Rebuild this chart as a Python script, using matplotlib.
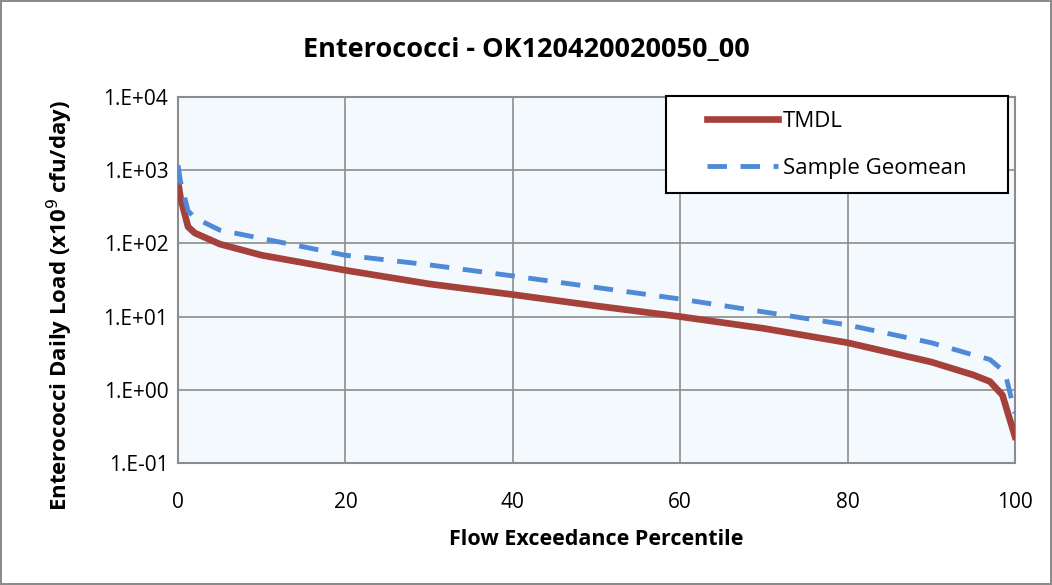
import matplotlib.pyplot as plt
from matplotlib.patches import Rectangle
from matplotlib.ticker import FixedLocator, FuncFormatter

plt.rcParams['font.family'] = ['Open Sans', 'DejaVu Sans']

# values
tmdl_x = [0, 0.3, 1.2, 2, 5, 10, 20, 30, 40, 50, 60, 70, 80, 90, 95, 97, 98.5, 100]
tmdl_y = [700, 420, 169, 139, 98, 69, 43, 28, 20, 14, 10, 6.9, 4.4, 2.4, 1.6, 1.3, 0.85, 0.23]

geo_x = [0, 0.3, 1.2, 2, 5, 10, 20, 30, 40, 50, 60, 70, 80, 90, 95, 97, 98.5, 99, 100]
geo_y = [1170, 700, 280, 224, 152, 117, 69, 51, 36, 25, 17.4, 11.6, 7.7, 4.4, 3.0, 2.6, 1.86, 1.4, 0.48]

yticks = [0.1, 1, 10, 100, 1000, 10000]
ytick_labels = ['1.E-01', '1.E+00', '1.E+01', '1.E+02', '1.E+03', '1.E+04']
xticks = [0, 20, 40, 60, 80, 100]

fig = plt.figure(figsize=(10.52, 5.85), dpi=100)
fig.patch.set_edgecolor('#8c8c8c')
fig.patch.set_linewidth(1.5)

ax = fig.add_axes([0.1692, 0.2085, 0.7956, 0.6256])
ax.set_facecolor('#f4f9fd')

ax.plot(tmdl_x, tmdl_y, color='#a5403a', lw=4.8, label='TMDL', zorder=3)
ax.plot(geo_x, geo_y, color='#4f8ad6', lw=3.5, ls=(0, (4, 2.8)), label='Sample Geomean', zorder=3)

ax.set_yscale('log')
ax.set_ylim(0.1, 10000)
ax.set_xlim(0, 100)
ax.yaxis.set_major_locator(FixedLocator(yticks))
ax.yaxis.set_major_formatter(FuncFormatter(lambda v, p: ytick_labels[yticks.index(min(yticks, key=lambda t: abs(t - v)))]))
ax.yaxis.set_minor_locator(FixedLocator([]))
ax.set_xticks(xticks)

ax.grid(True, color='#8c8c8c', lw=1.2)
ax.set_axisbelow(True)
for s in ax.spines.values():
    s.set_color('#8c8c8c')
    s.set_linewidth(1.5)
ax.tick_params(axis='both', labelsize=15, length=0)
ax.tick_params(axis='x', pad=21)
ax.tick_params(axis='y', pad=7)

# title is centred on the whole figure, not the axes
fig.text(0.5, 0.902, 'Enterococci - OK120420020050_00', fontsize=19.5, fontweight='bold',
         ha='center', va='baseline')
ax.set_xlabel('Flow Exceedance Percentile', fontsize=15.5, fontweight='bold')
ax.xaxis.set_label_coords(0.5, -0.18)
ax.set_ylabel('Enterococci Daily Load (x10$^9$ cfu/day)', fontsize=16, fontweight='bold')
ax.yaxis.set_label_coords(-0.123, 0.43)

# legend box drawn separately so the padding can be wider than tall
ax.add_patch(Rectangle((0.583, 0.738), 0.4086, 0.265, transform=ax.transAxes,
                       facecolor='white', edgecolor='black', lw=1.5, zorder=4, clip_on=False))
leg = ax.legend(loc='center', fontsize=16, frameon=False, labelspacing=1.17,
                handlelength=3.2, handletextpad=0.25, bbox_to_anchor=(0.787, 0.870))
leg.set_zorder(5)

fig.savefig('out.png', dpi=100, edgecolor=fig.get_edgecolor())
